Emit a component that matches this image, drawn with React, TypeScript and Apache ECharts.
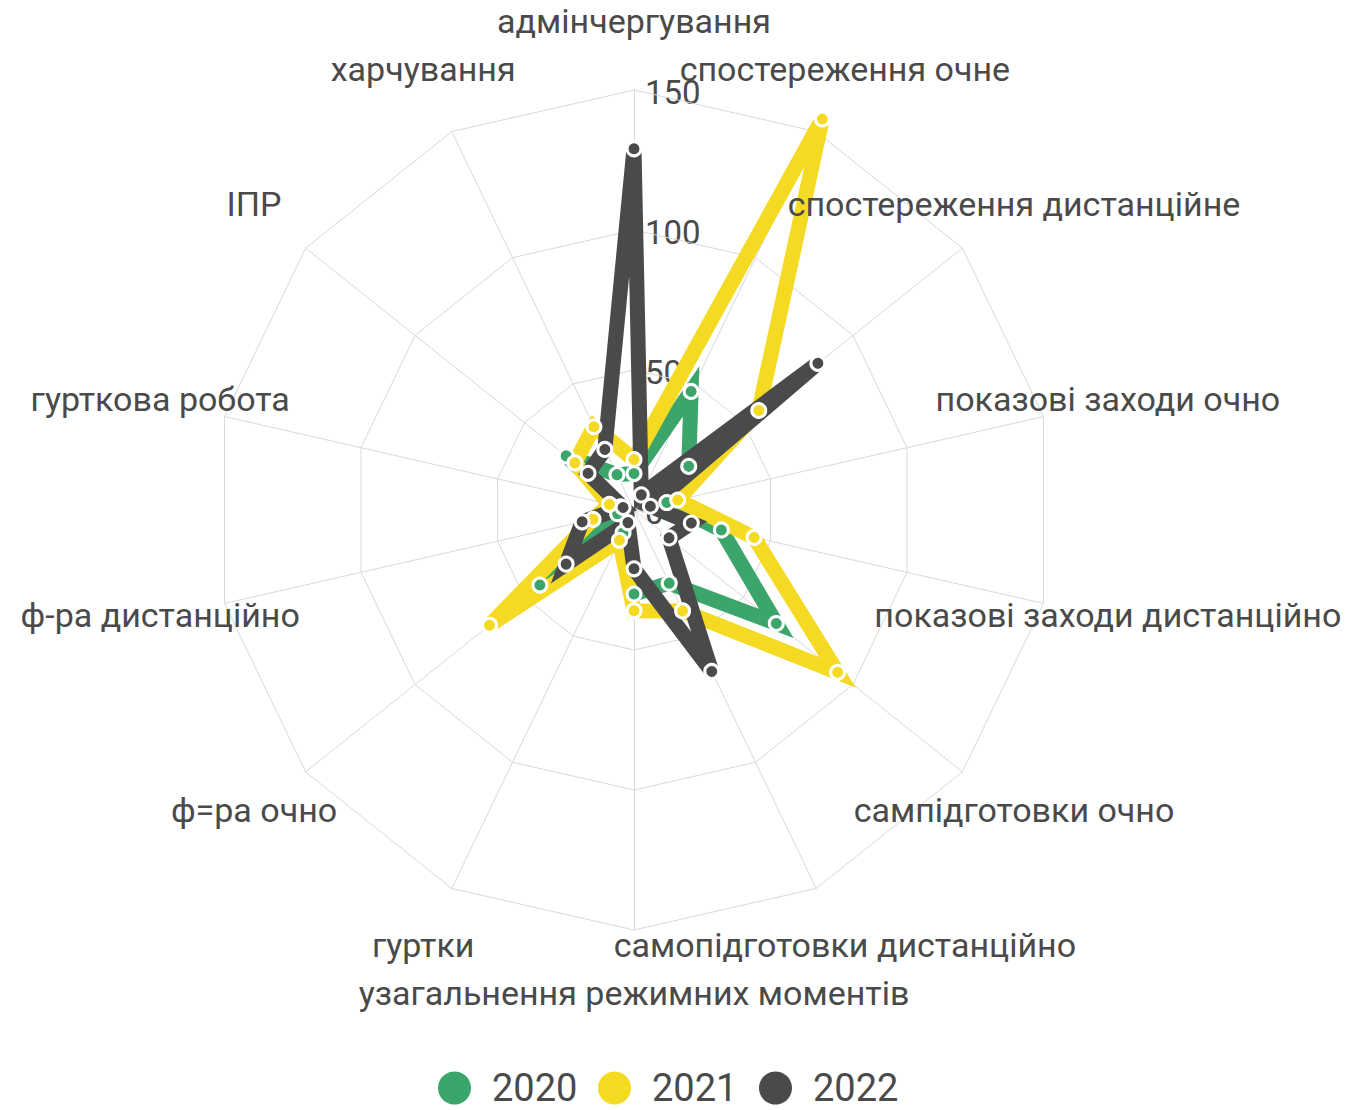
import React, { useEffect, useRef } from 'react';
import * as echarts from 'echarts';

// Categories in clockwise order starting from the top
const categories = [
  'адмінчергування',
  'спостереження очне',
  'спостереження дистанційне',
  'показові заходи очно',
  'показові заходи дистанційно',
  'сампідготовки очно',
  'самопідготовки дистанційно',
  'узагальнення режимних моментів',
  'гуртки',
  'ф=ра очно',
  'ф-ра дистанційно',
  'гурткова робота',
  'ІПР',
  'харчування',
];

const years = ['2020', '2021', '2022'];
const values2020 = [13, 47, 25, 12, 32, 65, 29, 30, 9, 43, 6, 5, 31, 14];
const values2021 = [18, 155, 57, 16, 44, 93, 40, 36, 12, 66, 15, 9, 27, 33];
const values2022 = [129, 6, 84, 6, 21, 16, 64, 21, 5, 31, 19, 4, 21, 24];
const tickValues = [0, 50, 100, 150];

const colors = ['#3BA56C', '#F4DA22', '#4A4A4A'];
const textColor = '#4a4a4a';
const gridColor = '#d9d9d9';

const CX = 634;
const CY = 510;
const RADIUS = 420;
const MAX = 150;
const LABEL_R = 486;
const legendLefts = [438, 598, 759];

// ECharts radar runs counter-clockwise; reorder so that the picture runs clockwise
const reorder = <T,>(arr: T[]): T[] => [arr[0], ...arr.slice(1).reverse()];

export default function App() {
  const ref = useRef<HTMLDivElement>(null);

  useEffect(() => {
    if (!ref.current) return;
    const chart = echarts.init(ref.current, undefined, { renderer: 'svg' });
    const allValues = [values2020, values2021, values2022];
    const n = categories.length;

    const catLabels = categories.map((name, i) => {
      const a = (i * 2 * Math.PI) / n;
      return {
        type: 'text',
        z: 100,
        x: CX + LABEL_R * Math.sin(a),
        y: CY - 3 - LABEL_R * Math.cos(a),
        style: {
          text: name,
          fill: textColor,
          fontSize: 34,
          fontFamily: 'Roboto',
          align: 'center',
          verticalAlign: 'middle',
        },
      };
    });

    const tickLabels = tickValues.map((v) => ({
      type: 'text',
      z: 0,
      x: CX + 11,
      y: CY + 2 - (v / MAX) * RADIUS,
      style: {
        text: String(v),
        fill: textColor,
        fontSize: 33,
        fontFamily: 'Roboto',
        align: 'left',
        verticalAlign: 'middle',
      },
    }));

    const lineSeries = allValues.map((vals, k) => ({
      type: 'radar',
      name: 'lines' + years[k],
      symbol: 'none',
      lineStyle: { color: colors[k], width: 15, join: 'miter', miterLimit: 4 },
      itemStyle: { color: colors[k] },
      data: [
        {
          name: years[k],
          value: reorder(vals),
          lineStyle: { color: colors[k], width: 15, join: 'miter', miterLimit: 4 },
          itemStyle: { color: colors[k] },
        },
      ],
    }));

    const markerSeries = allValues.map((vals, k) => ({
      type: 'radar',
      name: 'markers' + years[k],
      symbol: 'circle',
      symbolSize: 14,
      lineStyle: { width: 0, opacity: 0 },
      itemStyle: { color: colors[k], borderColor: '#ffffff', borderWidth: 3 },
      data: [
        {
          name: years[k],
          value: reorder(vals),
          lineStyle: { width: 0, opacity: 0 },
          itemStyle: { color: colors[k], borderColor: '#ffffff', borderWidth: 3 },
        },
      ],
    }));

    const legends = years.map((y, k) => ({
      data: [y],
      left: legendLefts[k],
      top: 1069,
      padding: 0,
      icon: 'circle',
      itemWidth: 33,
      itemHeight: 33,
      itemStyle: { borderWidth: 0, color: colors[k] },
      textStyle: {
        fontSize: 38,
        color: textColor,
        fontFamily: 'Roboto',
        padding: [0, 0, 0, 16],
      },
    }));

    chart.setOption({
      animation: false,
      color: colors,
      textStyle: { fontFamily: 'Roboto' },
      legend: legends,
      radar: {
        center: [CX, CY],
        radius: RADIUS,
        startAngle: 90,
        splitNumber: 3,
        shape: 'polygon',
        indicator: reorder(categories).map((name) => ({ name, min: 0, max: MAX })),
        axisName: { show: false },
        axisLine: { lineStyle: { color: gridColor, width: 1 } },
        splitLine: { lineStyle: { color: gridColor, width: 1 } },
        splitArea: { show: false },
        axisTick: { show: false },
        axisLabel: { show: false },
      },
      graphic: [...tickLabels, ...catLabels],
      series: [...lineSeries, ...markerSeries],
    });

    return () => chart.dispose();
  }, []);

  return (
    <div
      ref={ref}
      style={{ position: 'absolute', left: 0, top: 0, width: 1346, height: 1110, background: '#fff' }}
    />
  );
}
